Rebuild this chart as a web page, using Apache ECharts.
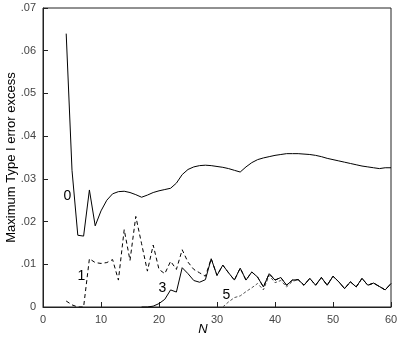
<!DOCTYPE html>
<html>
<head>
<meta charset="utf-8">
<script src="https://cdn.jsdelivr.net/npm/echarts@6/dist/echarts.min.js"></script>
<style>
  html, body { margin: 0; padding: 0; background: #fff; }
  #app { width: 400px; height: 338px; }
</style>
</head>
<body>
<div id="app"></div>
<script>
// curve "0", N = 4..60
const start0 = 4;
const curve0 = [
  0.064, 0.032, 0.0168, 0.0166, 0.0274, 0.019, 0.0225, 0.025, 0.0265, 0.027,
  0.0271, 0.0268, 0.0263, 0.0257, 0.0262, 0.0268, 0.0272, 0.0275, 0.0278, 0.029,
  0.031, 0.0322, 0.0328, 0.0331, 0.0332, 0.0331, 0.0329, 0.0327, 0.0324, 0.032,
  0.0316, 0.0328, 0.0338, 0.0345, 0.0349, 0.0352, 0.0355, 0.0357, 0.0359, 0.0359,
  0.0359, 0.0358, 0.0357, 0.0355, 0.0352, 0.0348, 0.0345, 0.0342, 0.0339, 0.0336,
  0.0333, 0.033, 0.0328, 0.0326, 0.0324, 0.0326, 0.0326
];
// curve "1" before it joins curve "3", N = 4..28
const start1 = 4;
const curve1Head = [
  0.0014, 0.0005, 0, 0, 0.0113, 0.0104, 0.0102, 0.0104, 0.0111, 0.0063,
  0.0181, 0.0109, 0.0212, 0.0148, 0.0084, 0.0145, 0.0088, 0.0078, 0.0107, 0.0088,
  0.0134, 0.0105, 0.0088, 0.008, 0.0072
];
// curve "3", N = 17..60
const start3 = 17;
const curve3 = [
  0, 0, 0.0002, 0.0008, 0.0018, 0.004, 0.0035, 0.0092, 0.0078, 0.0062,
  0.0058, 0.0064, 0.0113, 0.0074, 0.0098, 0.008, 0.0063, 0.0091, 0.0063, 0.0082,
  0.007, 0.0047, 0.0078, 0.0063, 0.0069, 0.0051, 0.0063, 0.0064, 0.0051, 0.0067,
  0.0051, 0.0069, 0.0051, 0.0072, 0.0059, 0.0043, 0.0059, 0.0047, 0.0067, 0.0051,
  0.0056, 0.0048, 0.004, 0.0055
];
// curve "5" before it joins curve "3", N = 31..43
const start5 = 31;
const curve5Head = [
  0, 0.0012, 0.0022, 0.0026, 0.0036, 0.0045, 0.0055, 0.004, 0.0074, 0.0057,
  0.0062, 0.0047, 0.006
];
const xTicks = [0, 10, 20, 30, 40, 50, 60];
const yTickLabels = ["0", ".01", ".02", ".03", ".04", ".05", ".06", ".07"];

function pairs(startN, vals) {
  return vals.map((v, i) => [startN + i, v]);
}
// after joining, 1 and 5 run on top of 3
function joined(startN, head) {
  const d = pairs(startN, head);
  const lastN = startN + head.length - 1;
  return d.concat(pairs(start3, curve3).filter((p) => p[0] > lastN));
}

const font = "'Liberation Sans', Arial, sans-serif";

function tag(text, x, y) {
  return {
    data: [{ coord: [x, y] }],
    symbol: "circle",
    symbolSize: 0,
    label: { show: true, formatter: text, color: "#000", fontSize: 14, fontFamily: font },
    silent: true,
  };
}

const myChart = echarts.init(document.getElementById("app"));
const option = {
  animation: false,
  grid: {
    left: 43, right: 9, top: 8, bottom: 31,
    outerBoundsMode: "none", containLabel: false,
    show: true, borderColor: "#222", borderWidth: 1,
  },
  xAxis: {
    type: "value", min: 0, max: 60, interval: 10,
    name: "N", nameLocation: "middle", nameGap: 16, nameMoveOverlap: false,
    nameTextStyle: {
      fontStyle: "italic", fontSize: 13, color: "#000", fontFamily: font,
      padding: [0, 28, 0, 0],
    },
    axisLine: { lineStyle: { color: "#222" } },
    axisTick: { inside: true, length: 5, lineStyle: { color: "#222" } },
    axisLabel: {
      margin: 7, fontSize: 11, color: "#444", fontFamily: font,
      formatter: (v) => (xTicks.includes(v) ? String(v) : ""),
    },
    splitLine: { show: false },
  },
  yAxis: {
    type: "value", min: 0, max: 0.07, interval: 0.01,
    name: "Maximum Type I error excess", nameLocation: "middle", nameGap: 25,
    nameMoveOverlap: false,
    nameTextStyle: { fontSize: 13, color: "#000", fontFamily: font },
    axisLine: { show: true, lineStyle: { color: "#222" } },
    axisTick: { show: true, inside: true, length: 5, lineStyle: { color: "#222" } },
    axisLabel: {
      margin: 7, fontSize: 11, color: "#444", fontFamily: font,
      formatter: (v) => yTickLabels[Math.round(v * 100)],
    },
    splitLine: { show: false },
  },
  series: [
    {
      type: "line", data: pairs(start0, curve0), symbol: "none",
      lineStyle: { color: "#000", width: 1 },
      markPoint: tag("0", 4.2, 0.026),
    },
    {
      type: "line", data: joined(start5, curve5Head), symbol: "none",
      lineStyle: { color: "#555", width: 1, type: [3, 2] },
      markPoint: tag("5", 31.6, 0.0028),
    },
    {
      type: "line", data: pairs(start3, curve3), symbol: "none",
      lineStyle: { color: "#000", width: 1 },
      markPoint: tag("3", 20.6, 0.0045),
    },
    {
      type: "line", data: joined(start1, curve1Head), symbol: "none",
      lineStyle: { color: "#000", width: 1, type: [4, 3] },
      markPoint: tag("1", 6.6, 0.0072),
    },
  ],
};
myChart.setOption(option);
</script>
</body>
</html>
